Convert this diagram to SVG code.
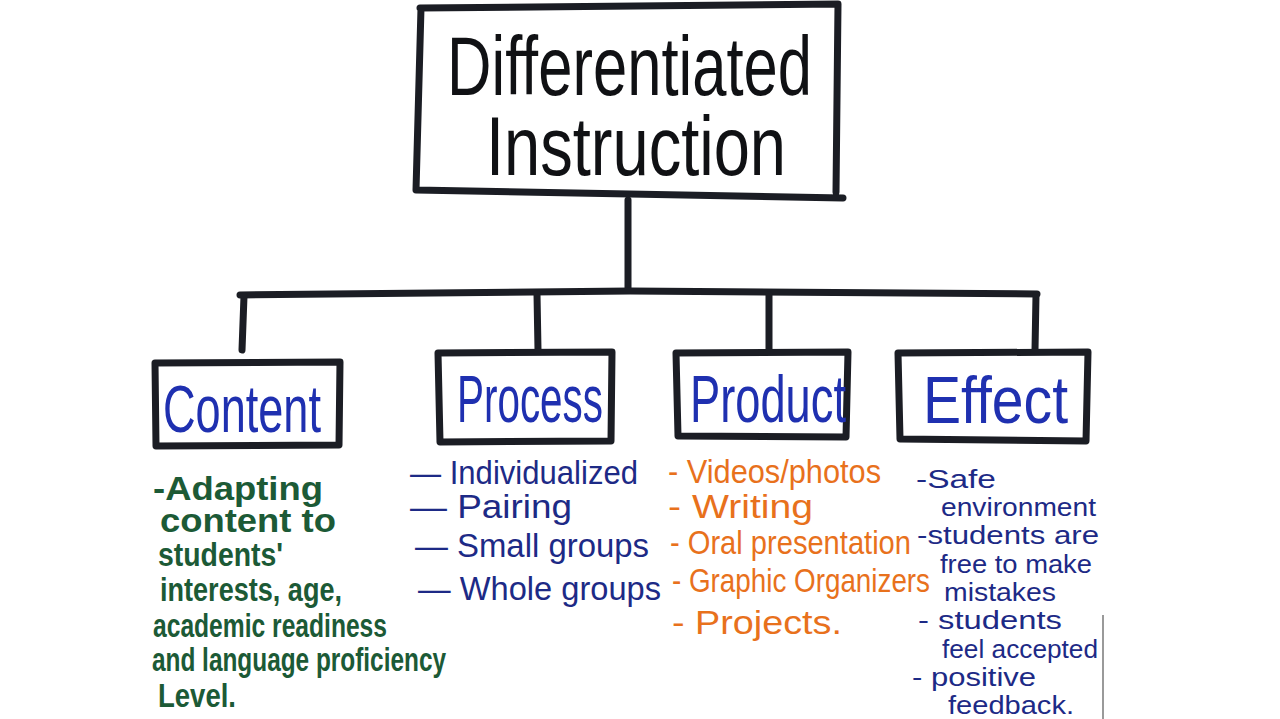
<svg xmlns="http://www.w3.org/2000/svg" width="1280" height="719" viewBox="0 0 1280 719">
<style>
.ln{fill:none;stroke:#1b1d24;stroke-width:7;stroke-linecap:round;stroke-linejoin:round}
.title{font-family:"Liberation Sans Narrow","Liberation Sans",sans-serif;font-size:84px;fill:#101114}
.head{font-family:"Liberation Sans Narrow","Liberation Sans",sans-serif;font-size:66px;fill:#1f30b0}
.it{font-family:"Liberation Sans Narrow","Liberation Sans",sans-serif;font-size:33px}
.sm{font-family:"Liberation Sans Narrow","Liberation Sans",sans-serif;font-size:25px}
.green{fill:#1c5a36;font-weight:bold}
.navy{fill:#1d2a86}
.orange{fill:#e8711c}
</style>
<rect width="1280" height="719" fill="#ffffff"/>
<g id="connectors">
<path class="ln" d="M628,200 L628,290"/>
<path class="ln" d="M240,295 L630,291 L1037,294"/>
<path class="ln" d="M244,296 L242,350"/>
<path class="ln" d="M537,294 L538,350"/>
<path class="ln" d="M769,295 L769,350"/>
<path class="ln" d="M1036,295 L1035,350"/>
</g>
<g id="root">
<path class="ln" d="M420,8 L838,4 L836,192 M416,190 L843,198 M421,8 L416,190"/>
<text class="title" x="447" y="95" textLength="365" lengthAdjust="spacingAndGlyphs">Differentiated</text>
<text class="title" x="486" y="175" textLength="300" lengthAdjust="spacingAndGlyphs">Instruction</text>
</g>
<g id="content">
<path class="ln" d="M155,363 L340,362 L339,445 L156,446 Z"/>
<text class="head" x="163" y="432" textLength="158" lengthAdjust="spacingAndGlyphs">Content</text>
<g class="it green">
<text x="153" y="500" textLength="170" lengthAdjust="spacingAndGlyphs">-Adapting</text>
<text x="160" y="532" textLength="176" lengthAdjust="spacingAndGlyphs">content to</text>
<text x="158" y="566" textLength="125" lengthAdjust="spacingAndGlyphs">students'</text>
<text x="160" y="601" textLength="182" lengthAdjust="spacingAndGlyphs">interests, age,</text>
<text x="153" y="637" textLength="234" lengthAdjust="spacingAndGlyphs">academic readiness</text>
<text x="152" y="671" textLength="294" lengthAdjust="spacingAndGlyphs">and language proficiency</text>
<text x="158" y="707" textLength="78" lengthAdjust="spacingAndGlyphs">Level.</text>
</g>
</g>
<g id="process">
<path class="ln" d="M438,353 L612,352 L611,441 L440,442 Z"/>
<text class="head" x="457" y="422" textLength="146" lengthAdjust="spacingAndGlyphs">Process</text>
<g class="it navy">
<text x="410" y="484" textLength="228" lengthAdjust="spacingAndGlyphs">— Individualized</text>
<text x="410" y="518" textLength="162" lengthAdjust="spacingAndGlyphs">— Pairing</text>
<text x="415" y="557" textLength="234" lengthAdjust="spacingAndGlyphs">— Small groups</text>
<text x="418" y="600" textLength="243" lengthAdjust="spacingAndGlyphs">— Whole groups</text>
</g>
</g>
<g id="product">
<path class="ln" d="M676,353 L848,352 L846,437 L678,436 Z"/>
<text class="head" x="690" y="422" textLength="156" lengthAdjust="spacingAndGlyphs">Product</text>
<g class="it orange">
<text x="668" y="483" textLength="213" lengthAdjust="spacingAndGlyphs">- Videos/photos</text>
<text x="668" y="518" textLength="145" lengthAdjust="spacingAndGlyphs">- Writing</text>
<text x="670" y="554" textLength="241" lengthAdjust="spacingAndGlyphs">- Oral presentation</text>
<text x="672" y="592" textLength="258" lengthAdjust="spacingAndGlyphs">- Graphic Organizers</text>
<text x="672" y="634" textLength="170" lengthAdjust="spacingAndGlyphs">- Projects.</text>
</g>
</g>
<g id="effect">
<path class="ln" d="M898,353 L1088,352 L1086,441 L900,439 Z"/>
<text class="head" x="923" y="423" textLength="145" lengthAdjust="spacingAndGlyphs">Effect</text>
<g class="sm navy">
<text x="916" y="488" textLength="80" lengthAdjust="spacingAndGlyphs">-Safe</text>
<text x="941" y="516" textLength="155" lengthAdjust="spacingAndGlyphs">environment</text>
<text x="917" y="544" textLength="182" lengthAdjust="spacingAndGlyphs">-students are</text>
<text x="940" y="573" textLength="152" lengthAdjust="spacingAndGlyphs">free to make</text>
<text x="944" y="601" textLength="112" lengthAdjust="spacingAndGlyphs">mistakes</text>
<text x="918" y="629" textLength="144" lengthAdjust="spacingAndGlyphs">- students</text>
<text x="942" y="658" textLength="156" lengthAdjust="spacingAndGlyphs">feel accepted</text>
<text x="912" y="686" textLength="124" lengthAdjust="spacingAndGlyphs">- positive</text>
<text x="948" y="714" textLength="126" lengthAdjust="spacingAndGlyphs">feedback.</text>
</g>
</g>
<path d="M1103,615 L1103,719" stroke="#9a9a9a" stroke-width="2" fill="none"/>
</svg>
